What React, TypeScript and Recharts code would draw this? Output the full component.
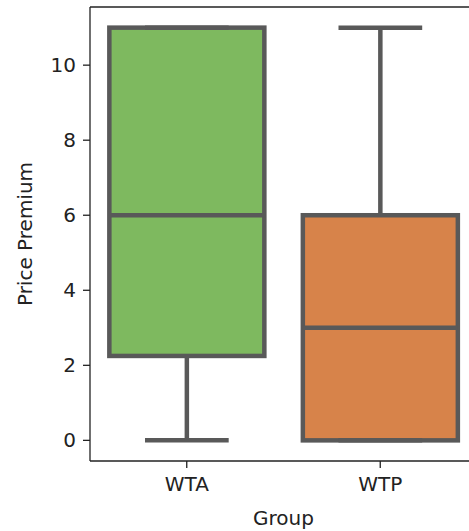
import { ComposedChart, Bar, XAxis, YAxis, ReferenceLine, Label } from 'recharts';

const groups = ['WTA', 'WTP'];
const mins = [0, 0];
const q1s = [2.25, 0];
const medians = [6, 3];
const q3s = [11, 6];
const maxs = [11, 11];
const yTicks = [0, 2, 4, 6, 8, 10];

const COLORS = ['#7eb95f', '#d7834a'];
const EDGE = '#595959';
const FONT = '"DejaVu Sans", sans-serif';

const data = groups.map((g, i) => ({
    group: g,
    range: [mins[i], maxs[i]],
    min: mins[i],
    q1: q1s[i],
    median: medians[i],
    q3: q3s[i],
    max: maxs[i],
}));

// the bar spans min..max, every other value is placed inside it on the same scale
function BoxShape(props: any) {
    const { x, y, width, height, payload, index } = props;
    const top = Math.min(y, y + height);
    const bottom = Math.max(y, y + height);
    const lo = payload.min;
    const hi = payload.max;
    const py = (v: number) => bottom - ((v - lo) / (hi - lo)) * (bottom - top);
    const cx = x + width / 2;
    const capHalf = width * 0.27;
    const lw = 4.5;

    return (
        <g>
            <line x1={cx} x2={cx} y1={py(payload.min)} y2={py(payload.q1)} stroke={EDGE} strokeWidth={lw} />
            <line x1={cx} x2={cx} y1={py(payload.q3)} y2={py(payload.max)} stroke={EDGE} strokeWidth={lw} />
            <rect
                x={x}
                y={py(payload.q3)}
                width={width}
                height={py(payload.q1) - py(payload.q3)}
                fill={COLORS[index % COLORS.length]}
                stroke={EDGE}
                strokeWidth={lw}
            />
            <line x1={x} x2={x + width} y1={py(payload.median)} y2={py(payload.median)} stroke={EDGE} strokeWidth={lw} />
            <line x1={cx - capHalf} x2={cx + capHalf} y1={py(payload.min)} y2={py(payload.min)} stroke={EDGE} strokeWidth={lw} />
            <line x1={cx - capHalf} x2={cx + capHalf} y1={py(payload.max)} y2={py(payload.max)} stroke={EDGE} strokeWidth={lw} />
        </g>
    );
}

export default function App() {
    return (
        <div style={{ position: 'absolute', left: 0, top: 0, width: 469, height: 531, overflow: 'hidden', background: '#fff' }}>
            <ComposedChart
                width={477}
                height={531}
                data={data}
                margin={{ top: 7, right: 0, bottom: 0, left: 0 }}
                barCategoryGap="10%"
            >
                <XAxis
                    dataKey="group"
                    type="category"
                    height={70}
                    tickSize={7}
                    tickMargin={9}
                    axisLine={{ stroke: '#222', strokeWidth: 1.3 }}
                    tickLine={{ stroke: '#222', strokeWidth: 1.3 }}
                    tick={{ fill: '#222', fontSize: 20, fontFamily: FONT }}
                >
                    <Label value="Group" position="insideBottom" offset={6} style={{ fill: '#222', fontSize: 20, fontFamily: FONT }} />
                </XAxis>
                <YAxis
                    type="number"
                    domain={[-0.55, 11.55]}
                    ticks={yTicks}
                    width={90}
                    tickSize={7}
                    tickMargin={7}
                    axisLine={{ stroke: '#222', strokeWidth: 1.3 }}
                    tickLine={{ stroke: '#222', strokeWidth: 1.3 }}
                    tick={{ fill: '#222', fontSize: 20, fontFamily: FONT }}
                >
                    <Label
                        value="Price Premium"
                        angle={-90}
                        position="insideLeft"
                        offset={25}
                        style={{ textAnchor: 'middle', fill: '#222', fontSize: 20, fontFamily: FONT }}
                    />
                </YAxis>
                <ReferenceLine y={11.55} stroke="#222" strokeWidth={1.3} />
                <Bar dataKey="range" shape={BoxShape} isAnimationActive={false} />
            </ComposedChart>
        </div>
    );
}
